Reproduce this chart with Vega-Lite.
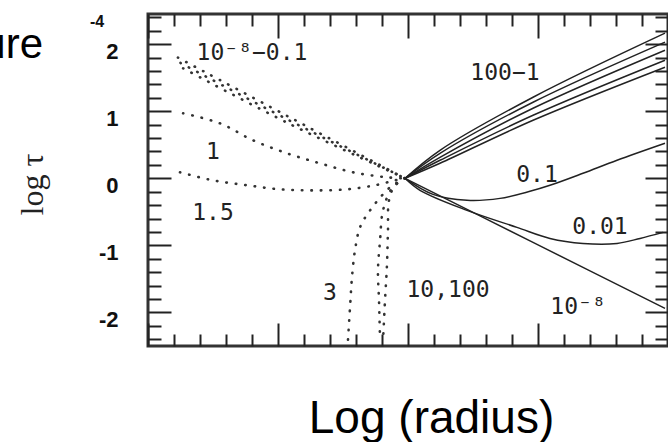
{
  "$schema": "https://vega.github.io/schema/vega-lite/v6.json",
  "width": 520,
  "height": 332,
  "autosize": {"type": "none"},
  "padding": {"left": 148, "top": 14, "right": 0, "bottom": 96},
  "background": "white",
  "config": {
    "view": {"stroke": "#333", "strokeWidth": 3},
    "axis": {"grid": false, "domain": false}
  },
  "datasets": {
    "dotted": [
      {"s": "a1", "x": 0.23, "y": 1.80}, {"s": "a1", "x": 1.08, "y": 0.92}, {"s": "a1", "x": 1.977, "y": 0},
      {"s": "a2", "x": 0.25, "y": 1.72}, {"s": "a2", "x": 1.08, "y": 0.87}, {"s": "a2", "x": 1.977, "y": 0},
      {"s": "a3", "x": 0.27, "y": 1.64}, {"s": "a3", "x": 1.08, "y": 0.82}, {"s": "a3", "x": 1.977, "y": 0},
      {"s": "b", "x": 0.27, "y": 0.97}, {"s": "b", "x": 0.554, "y": 0.82}, {"s": "b", "x": 0.808, "y": 0.567}, {"s": "b", "x": 1.07, "y": 0.373}, {"s": "b", "x": 1.323, "y": 0.224}, {"s": "b", "x": 1.577, "y": 0.09}, {"s": "b", "x": 1.838, "y": 0.015}, {"s": "b", "x": 1.977, "y": 0},
      {"s": "c", "x": 0.246, "y": 0.09}, {"s": "c", "x": 0.5, "y": -0.03}, {"s": "c", "x": 0.762, "y": -0.104}, {"s": "c", "x": 1.015, "y": -0.164}, {"s": "c", "x": 1.27, "y": -0.18}, {"s": "c", "x": 1.53, "y": -0.164}, {"s": "c", "x": 1.746, "y": -0.104}, {"s": "c", "x": 1.9, "y": -0.03}, {"s": "c", "x": 1.977, "y": 0},
      {"s": "d", "x": 1.977, "y": 0}, {"s": "d", "x": 1.862, "y": -0.134}, {"s": "d", "x": 1.708, "y": -0.478}, {"s": "d", "x": 1.631, "y": -0.731}, {"s": "d", "x": 1.592, "y": -1.075}, {"s": "d", "x": 1.569, "y": -1.478}, {"s": "d", "x": 1.554, "y": -1.925}, {"s": "d", "x": 1.538, "y": -2.418},
      {"s": "e", "x": 1.977, "y": 0}, {"s": "e", "x": 1.9, "y": -0.104}, {"s": "e", "x": 1.854, "y": -0.328}, {"s": "e", "x": 1.846, "y": -0.776}, {"s": "e", "x": 1.838, "y": -1.299}, {"s": "e", "x": 1.823, "y": -1.821}, {"s": "e", "x": 1.808, "y": -2.418},
      {"s": "f", "x": 1.977, "y": 0}, {"s": "f", "x": 1.877, "y": -0.149}, {"s": "f", "x": 1.808, "y": -0.478}, {"s": "f", "x": 1.785, "y": -0.925}, {"s": "f", "x": 1.769, "y": -1.373}, {"s": "f", "x": 1.777, "y": -1.821}, {"s": "f", "x": 1.785, "y": -2.418}
    ],
    "solid": [
      {"s": "g1", "x": 1.977, "y": 0}, {"s": "g1", "x": 2.246, "y": 0.418}, {"s": "g1", "x": 2.962, "y": 1.209}, {"s": "g1", "x": 3.977, "y": 2.164},
      {"s": "g2", "x": 1.977, "y": 0}, {"s": "g2", "x": 2.246, "y": 0.373}, {"s": "g2", "x": 2.962, "y": 1.134}, {"s": "g2", "x": 3.977, "y": 2.03},
      {"s": "g3", "x": 1.977, "y": 0}, {"s": "g3", "x": 2.246, "y": 0.313}, {"s": "g3", "x": 2.962, "y": 1.045}, {"s": "g3", "x": 3.977, "y": 1.91},
      {"s": "g4", "x": 1.977, "y": 0}, {"s": "g4", "x": 2.246, "y": 0.269}, {"s": "g4", "x": 2.962, "y": 0.94}, {"s": "g4", "x": 3.977, "y": 1.761},
      {"s": "g5", "x": 1.977, "y": 0}, {"s": "g5", "x": 2.246, "y": 0.224}, {"s": "g5", "x": 2.962, "y": 0.866}, {"s": "g5", "x": 3.977, "y": 1.657},
      {"s": "h", "x": 1.977, "y": 0}, {"s": "h", "x": 2.192, "y": -0.239}, {"s": "h", "x": 2.454, "y": -0.328}, {"s": "h", "x": 2.708, "y": -0.299}, {"s": "h", "x": 2.938, "y": -0.194}, {"s": "h", "x": 3.092, "y": -0.104}, {"s": "h", "x": 3.346, "y": 0.075}, {"s": "h", "x": 3.608, "y": 0.269}, {"s": "h", "x": 3.977, "y": 0.522},
      {"s": "k", "x": 1.977, "y": 0}, {"s": "k", "x": 2.092, "y": -0.179}, {"s": "k", "x": 2.454, "y": -0.478}, {"s": "k", "x": 2.838, "y": -0.731}, {"s": "k", "x": 3.092, "y": -0.896}, {"s": "k", "x": 3.346, "y": -0.97}, {"s": "k", "x": 3.608, "y": -0.97}, {"s": "k", "x": 3.785, "y": -0.896}, {"s": "k", "x": 3.962, "y": -0.806},
      {"s": "m", "x": 1.977, "y": 0}, {"s": "m", "x": 2.977, "y": -0.97}, {"s": "m", "x": 3.977, "y": -1.94}
    ],
    "labels": [
      {"x": 0.8, "y": 1.866, "label": "10⁻⁸−0.1"},
      {"x": 2.746, "y": 1.567, "label": "100−1"},
      {"x": 0.5, "y": 0.388, "label": "1"},
      {"x": 0.5, "y": -0.522, "label": "1.5"},
      {"x": 2.992, "y": 0.045, "label": "0.1"},
      {"x": 1.4, "y": -1.716, "label": "3"},
      {"x": 2.308, "y": -1.672, "label": "10,100"},
      {"x": 3.477, "y": -0.731, "label": "0.01"},
      {"x": 3.308, "y": -1.925, "label": "10⁻⁸"}
    ],
    "corner": [{"x": -0.8077, "y": 1.791, "label": "ure"}],
    "stray": [{"x": -0.392, "y": 2.33, "label": "-4"}]
  },
  "layer": [
    {
      "data": {"name": "dotted"},
      "mark": {"type": "line", "strokeDash": [0.5, 9], "strokeCap": "round", "strokeWidth": 2.6, "color": "#333", "interpolate": "catmull-rom"},
      "encoding": {
        "x": {"field": "x", "type": "quantitative", "scale": {"domain": [0, 4], "nice": false, "zero": false},
          "axis": {"orient": "bottom", "title": null, "labels": false, "values": [0,0.2,0.4,0.6,0.8,1,1.2,1.4,1.6,1.8,2,2.2,2.4,2.6,2.8,3,3.2,3.4,3.6,3.8,4],
            "tickColor": "#222", "tickWidth": 2, "tickSize": {"condition": {"test": "abs(datum.value - round(datum.value)) < 0.01", "value": -23}, "value": -12}}},
        "y": {"field": "y", "type": "quantitative", "scale": {"domain": [-2.5, 2.45], "nice": false, "zero": false},
          "axis": {"orient": "left", "title": null, "labels": false, "values": [-2.4,-2.2,-2,-1.8,-1.6,-1.4,-1.2,-1,-0.8,-0.6,-0.4,-0.2,0,0.2,0.4,0.6,0.8,1,1.2,1.4,1.6,1.8,2,2.2,2.4],
            "tickColor": "#222", "tickWidth": 2, "tickSize": {"condition": {"test": "abs(datum.value - round(datum.value)) < 0.01", "value": -23}, "value": -13}}},
        "detail": {"field": "s"},
        "order": {"value": null}
      }
    },
    {
      "data": {"name": "solid"},
      "mark": {"type": "line", "strokeWidth": 1.5, "color": "#222", "interpolate": "catmull-rom"},
      "encoding": {
        "x": {"field": "x", "type": "quantitative", "scale": {"domain": [0, 4], "nice": false, "zero": false},
          "axis": {"orient": "top", "title": null, "labels": false, "values": [0,0.2,0.4,0.6,0.8,1,1.2,1.4,1.6,1.8,2,2.2,2.4,2.6,2.8,3,3.2,3.4,3.6,3.8,4],
            "tickColor": "#222", "tickWidth": 2, "tickSize": {"condition": {"test": "abs(datum.value - round(datum.value)) < 0.01", "value": -24}, "value": -12}}},
        "y": {"field": "y", "type": "quantitative", "scale": {"domain": [-2.5, 2.45], "nice": false, "zero": false},
          "axis": {"orient": "right", "title": null, "labels": false, "values": [-2.4,-2.2,-2,-1.8,-1.6,-1.4,-1.2,-1,-0.8,-0.6,-0.4,-0.2,0,0.2,0.4,0.6,0.8,1,1.2,1.4,1.6,1.8,2,2.2,2.4],
            "tickColor": "#222", "tickWidth": 2, "tickSize": {"condition": {"test": "abs(datum.value - round(datum.value)) < 0.01", "value": -23}, "value": -13}}},
        "detail": {"field": "s"},
        "order": {"value": null}
      }
    },
    {
      "data": {"name": "labels"},
      "mark": {"type": "text", "font": "DejaVu Sans Mono", "fontSize": 23, "color": "#222", "align": "center", "baseline": "middle"},
      "encoding": {
        "x": {"field": "x", "type": "quantitative", "scale": {"domain": [0, 4], "nice": false, "zero": false},
          "axis": {"orient": "bottom", "ticks": false, "labels": false, "title": "Log (radius)", "titleFont": "Liberation Sans", "titleFontSize": 46, "titleFontWeight": "normal", "titleColor": "#000", "titleX": 283, "titleY": 86, "titleBaseline": "alphabetic", "titleAlign": "center"}},
        "y": {"field": "y", "type": "quantitative", "scale": {"domain": [-2.5, 2.45], "nice": false, "zero": false},
          "axis": {"orient": "left", "ticks": false, "values": [-2, -1, 0, 1, 2], "labelExpr": "datum.value < 0 ? '-' + abs(datum.value) : '' + datum.value",
            "labelFont": "Liberation Sans", "labelFontWeight": "bold", "labelFontSize": 22, "labelColor": "#111", "labelPadding": 30, "labelOffset": 7,
            "title": "log τ", "titleFont": "Liberation Serif", "titleFontSize": 32, "titleFontWeight": "normal", "titleColor": "#222", "titleAngle": 270, "titleX": -116, "titleY": 170, "titleAlign": "center", "titleBaseline": "middle"}},
        "text": {"field": "label"}
      }
    },
    {
      "data": {"name": "corner"},
      "mark": {"type": "text", "font": "Liberation Sans", "fontSize": 42, "color": "#000", "align": "right", "baseline": "alphabetic"},
      "encoding": {
        "x": {"field": "x", "type": "quantitative", "scale": {"domain": [0, 4], "nice": false, "zero": false}, "axis": null},
        "y": {"field": "y", "type": "quantitative", "scale": {"domain": [-2.5, 2.45], "nice": false, "zero": false}, "axis": null},
        "text": {"field": "label"}
      }
    },
    {
      "data": {"name": "stray"},
      "mark": {"type": "text", "font": "Liberation Sans", "fontSize": 16, "fontWeight": "bold", "color": "#111", "align": "center", "baseline": "middle"},
      "encoding": {
        "x": {"field": "x", "type": "quantitative", "scale": {"domain": [0, 4], "nice": false, "zero": false}, "axis": null},
        "y": {"field": "y", "type": "quantitative", "scale": {"domain": [-2.5, 2.45], "nice": false, "zero": false}, "axis": null},
        "text": {"field": "label"}
      }
    }
  ],
  "resolve": {"axis": {"x": "independent", "y": "independent"}}
}
